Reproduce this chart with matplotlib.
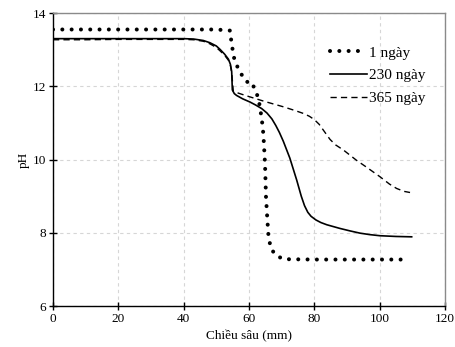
import matplotlib
matplotlib.use("Agg")
import matplotlib.pyplot as plt
import numpy as np

# Depth (mm) and pH profiles
depth_1 = [0, 10, 20, 30, 40, 50, 54.2, 54.5, 55.2, 55.7, 56.7, 57.8, 59.3, 60.8,
           62.5, 63.1, 63.9, 64.4, 64.9, 65.2, 65.6, 65.9, 66.2, 66.7, 68.2, 70.5,
           80, 90, 100, 108]
ph_1 = [13.55, 13.55, 13.55, 13.55, 13.55, 13.55, 13.52, 13.29, 12.87, 12.67, 12.49,
        12.31, 12.12, 12.12, 11.76, 11.56, 11.12, 10.69, 9.89, 8.98, 8.39, 7.98,
        7.80, 7.57, 7.39, 7.28, 7.27, 7.27, 7.27, 7.27]

depth_230 = [0, 10, 20, 30, 40, 43, 46, 48, 50, 51.1, 52.5, 53.7, 54.3, 54.7, 54.9,
             55.5, 56.2, 58.0, 60.3, 62.0, 63.9, 65.5, 67.0, 68.2, 69.3, 70.5, 72.5,
             74.6, 76.0, 77.0, 78.0, 79.0, 80.5, 82.0, 83.8, 87.8, 91.0, 94.0, 97.0,
             100.1, 105, 109.8]
ph_230 = [13.30, 13.30, 13.30, 13.30, 13.30, 13.29, 13.25, 13.19, 13.10, 13.01, 12.88,
          12.74, 12.60, 12.40, 11.90, 11.80, 11.75, 11.66, 11.57, 11.49, 11.39, 11.27,
          11.11, 10.93, 10.74, 10.50, 10.04, 9.44, 9.00, 8.74, 8.56, 8.45, 8.35, 8.28,
          8.22, 8.12, 8.05, 7.99, 7.95, 7.92, 7.90, 7.89]

depth_365 = [0, 10, 20, 30, 40, 43, 46, 48, 50, 51.1, 52.5, 53.7, 54.3, 54.7, 55.2,
             57.5, 60.3, 65.0, 70.5, 74.0, 76.6, 78.5, 80.0, 81.5, 82.7, 84.8, 86.5,
             88.9, 92.9, 96.0, 100.1, 103.0, 105.2, 107.5, 109.3]
ph_365 = [13.27, 13.27, 13.28, 13.28, 13.28, 13.27, 13.23, 13.16, 13.06, 12.97, 12.85,
          12.71, 12.57, 12.38, 11.86, 11.79, 11.71, 11.58, 11.44, 11.34, 11.26, 11.18,
          11.09, 10.96, 10.81, 10.55, 10.40, 10.26, 9.98, 9.79, 9.53, 9.33, 9.21, 9.13,
          9.10]

labels = ["1 ngày", "230 ngày", "365 ngày"]
x_ticks = [0, 20, 40, 60, 80, 100, 120]
y_ticks = [6, 8, 10, 12, 14]

plt.rcParams["font.family"] = ["Liberation Serif", "DejaVu Serif"]

fig = plt.figure(figsize=(4.55, 3.47), dpi=100)
ax = fig.add_axes([0.1165, 0.118, 0.8615, 0.8445])

ax.plot(depth_1, ph_1, color="black", lw=2.9, linestyle=(0, (0.01, 2.3)),
        dash_capstyle="round", label=labels[0])
ax.plot(depth_230, ph_230, color="black", lw=1.2, label=labels[1])
ax.plot(depth_365, ph_365, color="black", lw=1.0, linestyle=(0, (4.5, 3)),
        label=labels[2])

ax.set_xlim(0, 120)
ax.set_ylim(6, 14)
ax.set_xticks(x_ticks)
ax.set_yticks(y_ticks)
ax.tick_params(direction="inout", length=6, width=1, labelsize=9.5, pad=2)
ax.grid(True, color="#d6d6d6", linestyle=(0, (3, 3)), linewidth=0.8)
ax.set_axisbelow(True)

for side in ("left", "bottom"):
    ax.spines[side].set_color("black")
    ax.spines[side].set_linewidth(1.0)
for side in ("top", "right"):
    ax.spines[side].set_color("#8a8a8a")
    ax.spines[side].set_linewidth(1.0)

ax.set_xlabel("Chiều sâu (mm)", fontsize=9.5, labelpad=4)
ax.set_ylabel("pH", fontsize=9.5, labelpad=2)

leg = ax.legend(loc="upper right", bbox_to_anchor=(0.985, 0.935), frameon=False,
                fontsize=11, handlelength=2.4, handletextpad=0.15,
                labelspacing=0.6)

fig.savefig("out.png", dpi=100)
